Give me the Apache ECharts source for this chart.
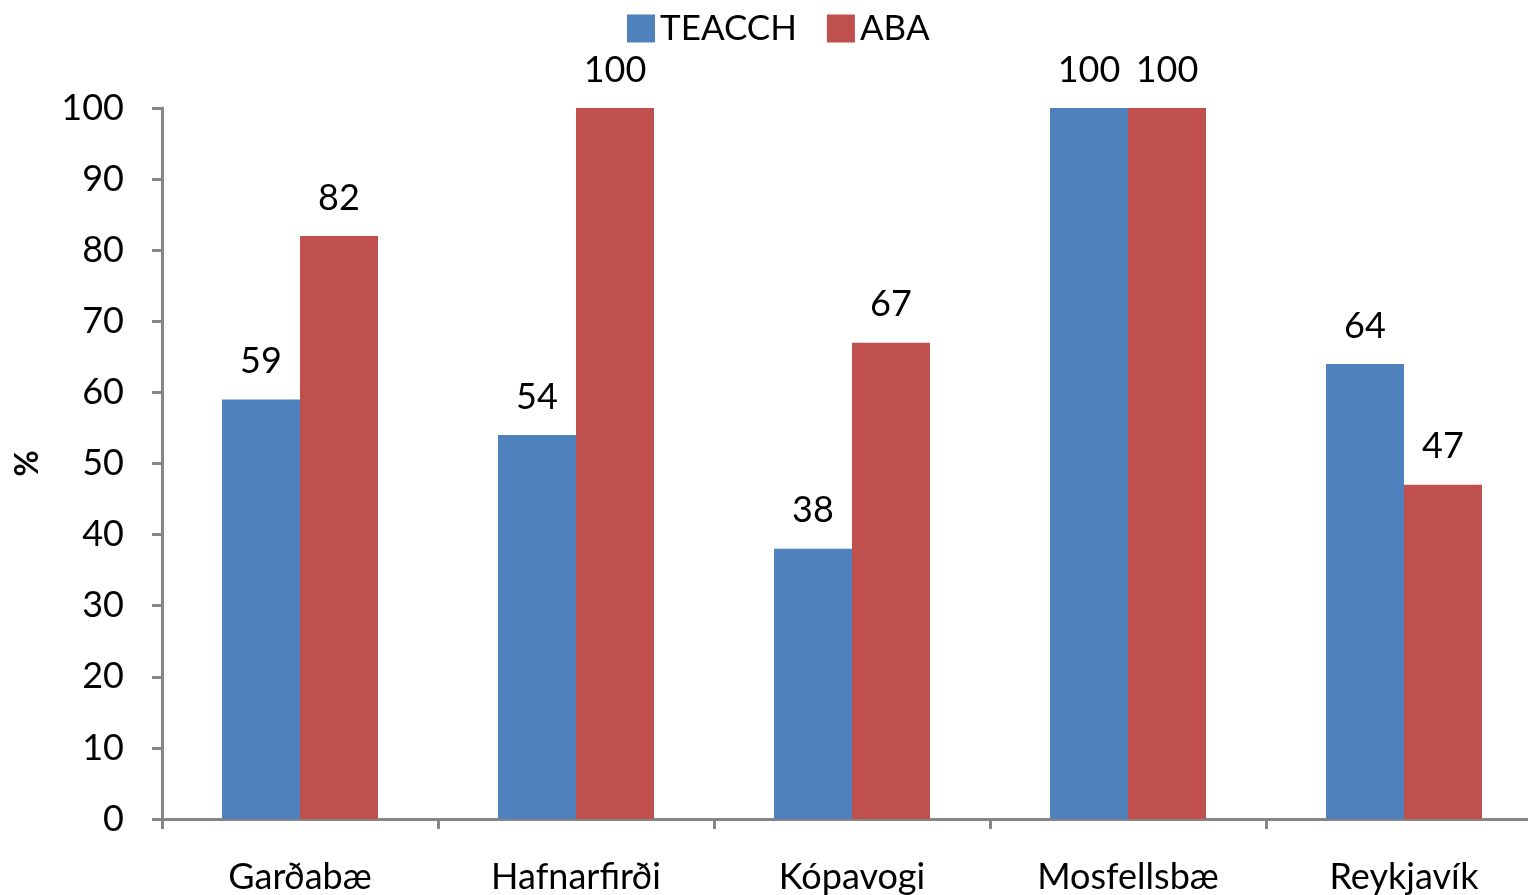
<!DOCTYPE html>
<html>
<head>
<meta charset="utf-8">
<script src="https://cdn.jsdelivr.net/npm/echarts@6/dist/echarts.min.js"></script>
<style>html,body{margin:0;padding:0;background:#fff;}#c{width:1528px;height:895px;}</style>
</head>
<body>
<div id="c"></div>
<script>
const categories = ['Garðabæ', 'Hafnarfirði', 'Kópavogi', 'Mosfellsbæ', 'Reykjavík'];
const teacch = [59, 54, 38, 100, 64];
const aba = [82, 100, 67, 100, 47];
const yTicks = { min: 0, max: 100, interval: 10 };

const font = 'Lato, "Open Sans", sans-serif';
const fs = 36;
const chart = echarts.init(document.getElementById('c'));
const labelStyle = { show: true, position: 'top', distance: 20, color: '#000', fontSize: fs, fontFamily: font };
chart.setOption({
  animation: false,
  textStyle: { fontFamily: font },
  legend: {
    top: 6, left: 622, itemWidth: 28, itemHeight: 28, itemGap: 30,
    icon: 'rect',
    textStyle: { fontSize: 35, color: '#000', fontFamily: font },
    data: ['TEACCH', 'ABA']
  },
  grid: { left: 162, right: -14, top: 108, bottom: 76, containLabel: false, outerBoundsMode: 'none' },
  xAxis: {
    type: 'category', data: categories,
    axisLine: { lineStyle: { color: '#868686', width: 3 } },
    axisTick: { show: true, length: 10, lineStyle: { color: '#868686', width: 3 } },
    axisLabel: { color: '#000', fontSize: fs, fontFamily: font, margin: 40 }
  },
  yAxis: {
    type: 'value', min: yTicks.min, max: yTicks.max, interval: yTicks.interval,
    name: '%', nameLocation: 'middle', nameGap: 118, nameRotate: 90,
    nameTextStyle: { fontSize: 32, fontWeight: 'bold', color: '#000', fontFamily: font },
    axisLine: { show: true, lineStyle: { color: '#868686', width: 3 } },
    axisTick: { show: true, length: 10, lineStyle: { color: '#868686', width: 3 } },
    splitLine: { show: false },
    axisLabel: { color: '#000', fontSize: fs, fontFamily: font, margin: 38 }
  },
  series: [
    { name: 'TEACCH', type: 'bar', data: teacch, barWidth: 78, barGap: '0%', itemStyle: { color: '#4F81BD' }, label: labelStyle },
    { name: 'ABA', type: 'bar', data: aba, barWidth: 78, barGap: '0%', itemStyle: { color: '#C0504D' }, label: labelStyle }
  ]
});
</script>
</body>
</html>
